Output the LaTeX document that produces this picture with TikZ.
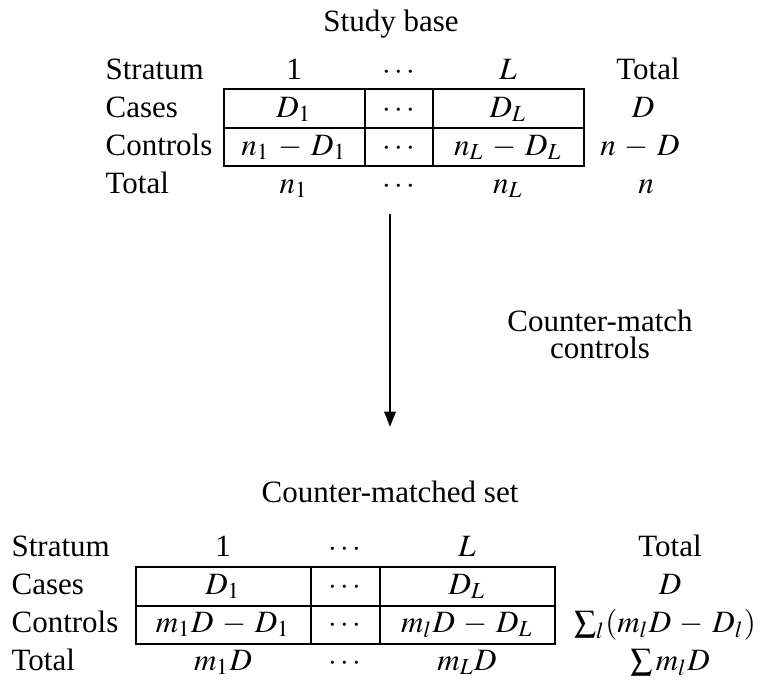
\documentclass[tikz,border=0pt]{standalone}
\usepackage{mathptmx}
\usepackage[no-math]{fontspec}
\setmainfont{Liberation Serif}
\usetikzlibrary{arrows.meta}
\tikzset{
  rowlab/.style={anchor=base west, inner sep=0pt},
  cell/.style={anchor=base, inner sep=0pt},
  heading/.style={anchor=base, inner sep=0pt},
  tabline/.style={line width=0.65pt},
  flowarrow/.style={-{Triangle[length=5pt, width=3.6pt]}, line width=0.95pt},
  steplabel/.style={align=center, inner sep=0pt, font=\fontsize{10pt}{8.7pt}\selectfont}
}

\begin{document}
\begin{tikzpicture}[x=0.3226pt, y=-0.3226pt, every node/.append style={execute at begin node={\medmuskip=5mu}}]
  \useasboundingbox (0,0) rectangle (773,685);

  % study base
  \node[heading] (base) at (391,31) {Study base};
  \node[rowlab] (sstr) at (105,79) {Stratum};
  \node[rowlab] (scas) at (105,117) {Cases};
  \node[rowlab] (scon) at (105,155) {Controls};
  \node[rowlab] (stot) at (105,193) {Total};
  \node[cell] (sh1) at (294,79) {1};
  \node[cell] (shd) at (399,79) {$\cdots$};
  \node[cell] (shL) at (508,79) {$L$};
  \node[cell] (sht) at (648,79) {Total};
  \node[cell] (sc1) at (294,117) {$D_1$};
  \node[cell] (scd) at (399,117) {$\cdots$};
  \node[cell] (scL) at (508,117) {$D_L$};
  \node[cell] (sct) at (643,117) {$D$};
  \node[cell] (sk1) at (294,155) {$n_1-D_1$};
  \node[cell] (skd) at (399,155) {$\cdots$};
  \node[cell] (skL) at (508,155) {$n_L-D_L$};
  \node[cell] (skt) at (640,155) {$n-D$};
  \node[cell] (st1) at (294,193) {$n_1$};
  \node[cell] (std) at (399,193) {$\cdots$};
  \node[cell] (stL) at (508,193) {$n_L$};
  \node[cell] (stt) at (646,193) {$n$};
  \draw[tabline] (224,89) rectangle (584,166);
  \draw[tabline] (224,128) -- (584,128);
  \draw[tabline] (365,89) -- (365,166);
  \draw[tabline] (433,89) -- (433,166);

  % sampling step
  \coordinate (arrtop) at (390,214);
  \coordinate (arrbot) at (390,427);
  \draw[flowarrow] (arrtop) -- (arrbot);
  \node[steplabel] (cmlab) at (600,334) {Counter-match\\controls};

  % counter-matched set
  \node[heading] (cmset) at (390,502) {Counter-matched set};
  \node[rowlab] (mstr) at (11,556) {Stratum};
  \node[rowlab] (mcas) at (11,594) {Cases};
  \node[rowlab] (mcon) at (11,632) {Controls};
  \node[rowlab] (mtot) at (11,670) {Total};
  \node[cell] (mh1) at (223,556) {1};
  \node[cell] (mhd) at (345,556) {$\cdots$};
  \node[cell] (mhL) at (467,556) {$L$};
  \node[cell] (mht) at (670,556) {Total};
  \node[cell] (mc1) at (223,594) {$D_1$};
  \node[cell] (mcd) at (345,594) {$\cdots$};
  \node[cell] (mcL) at (467,594) {$D_L$};
  \node[cell] (mct) at (670,594) {$D$};
  \node[cell] (mk1) at (223,632) {$m_1D-D_1$};
  \node[cell] (mkd) at (345,632) {$\cdots$};
  \node[cell] (mkL) at (467,632) {$m_lD-D_L$};
  \node[cell] (mkt) at (665,632) {$\sum_l(m_lD-D_l)$};
  \node[cell] (mt1) at (223,670) {$m_1D$};
  \node[cell] (mtd) at (345,670) {$\cdots$};
  \node[cell] (mtL) at (467,670) {$m_LD$};
  \node[cell] (mtt) at (670,670) {$\sum m_lD$};
  \draw[tabline] (136,567) rectangle (555,644);
  \draw[tabline] (136,606) -- (555,606);
  \draw[tabline] (311,567) -- (311,644);
  \draw[tabline] (380,567) -- (380,644);
\end{tikzpicture}
\end{document}
